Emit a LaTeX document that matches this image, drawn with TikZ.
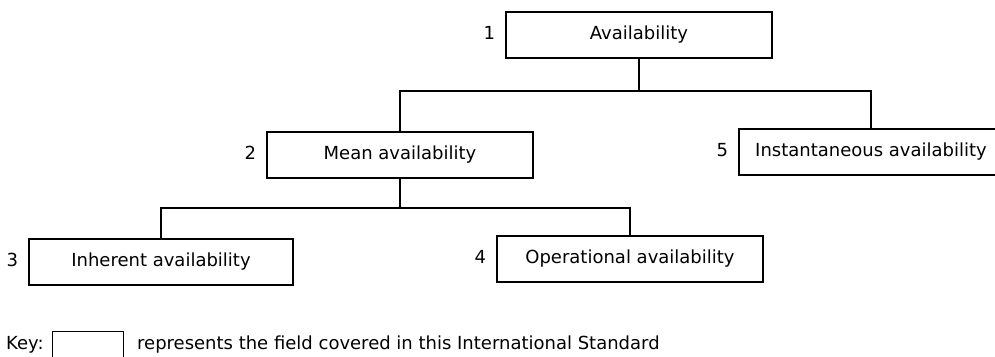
\documentclass[tikz,border=0pt]{standalone}
\usepackage{fontspec}
\setmainfont{DejaVu Sans}
\tikzset{
  every node/.style={font=\fontsize{18}{20}\selectfont, text height=13pt, text depth=5pt, inner sep=0pt},
  field/.style={draw, line width=1.5pt, minimum height=46pt},
  num/.style={label distance=10pt},
  link/.style={line width=1.5pt},
}
\begin{document}
\begin{tikzpicture}[x=1pt,y=-1pt]
\useasboundingbox (0,0) rectangle (995,356);
\clip (0,0) rectangle (995,356);
\node[field, minimum width=266pt, label={[num]left:1}] (b1) at (639,35) {Availability};
\node[field, minimum width=266pt, label={[num]left:2}] (b2) at (400,155) {Mean availability};
\node[field, minimum width=264pt, label={[num]left:5}] (b5) at (871,152) {Instantaneous availability};
\node[field, minimum width=264pt, minimum height=46pt, label={[num]left:3}] (b3) at (161,262) {Inherent availability};
\node[field, minimum width=266pt, minimum height=46pt, label={[num]left:4}] (b4) at (630,259) {Operational availability};
\draw[link] (b1.south) -- ++(0,32) coordinate (j1);
\draw[link] (b2.north) |- (j1) -| (b5.north);
\draw[link] (b2.south) -- ++(0,29) coordinate (j2);
\draw[link] (b3.north) |- (j2) -| (b4.north);
\node[anchor=base west] (key) at (6,349) {Key:};
\node[draw, line width=1.3pt, minimum width=71pt, minimum height=40pt, anchor=north west] (keybox) at (52,331) {};
\node[anchor=base west] (keytext) at (137,349) {represents the field covered in this International Standard};
\end{tikzpicture}
\end{document}
